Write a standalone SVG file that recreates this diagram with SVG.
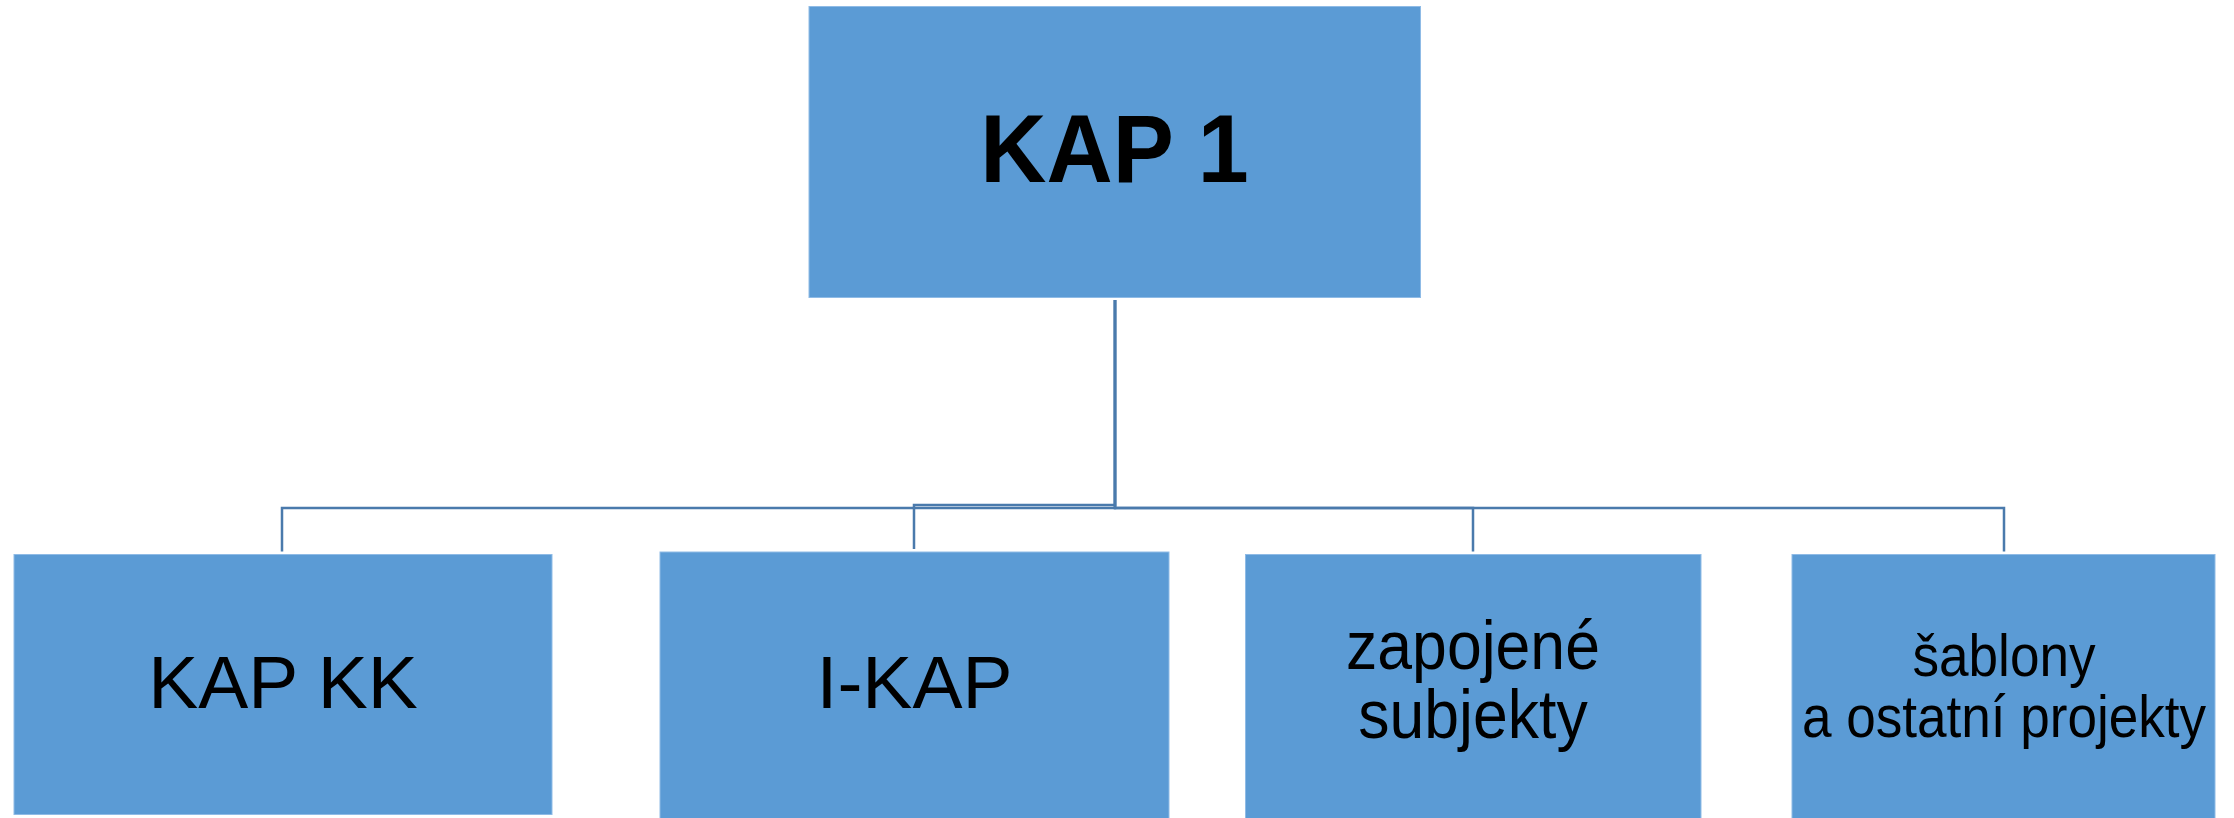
<svg xmlns="http://www.w3.org/2000/svg" width="2234" height="818" viewBox="0 0 2234 818">
  <style>
    .box { fill: #5b9bd5; stroke: #8fbbe6; stroke-width: 1; }
    .conn { fill: none; stroke: #4a7aac; stroke-width: 2.5; }
    .t { font-family: "Liberation Sans", Arial, sans-serif; fill: #000000; text-anchor: middle; }
  </style>
  <rect x="0" y="0" width="2234" height="818" fill="#ffffff"/>
  <g id="connectors">
    <path class="conn" d="M1115 300 V508 H282 V551.5"/>
    <path class="conn" d="M1115 300 V505 H914 V549"/>
    <path class="conn" d="M1115 300 V508 H1473 V551.5"/>
    <path class="conn" d="M1115 300 V508 H2004 V551.5"/>
  </g>
  <g id="kap1">
    <rect class="box" x="809" y="6.5" width="611.5" height="291"/>
    <text class="t" transform="translate(1114.5 182) scale(0.955 1)" font-size="96" font-weight="bold">KAP 1</text>
  </g>
  <g id="kapkk">
    <rect class="box" x="14" y="554.5" width="538" height="260"/>
    <text class="t" x="283" y="707.5" font-size="75">KAP KK</text>
  </g>
  <g id="ikap">
    <rect class="box" x="660" y="552" width="509" height="270"/>
    <text class="t" x="914.5" y="708" font-size="75">I-KAP</text>
  </g>
  <g id="zapojene">
    <rect class="box" x="1245.5" y="554.5" width="455.5" height="270"/>
    <text class="t" transform="translate(1473 669) scale(0.92 1)" font-size="68">zapojené</text>
    <text class="t" transform="translate(1473 738) scale(0.92 1)" font-size="68">subjekty</text>
  </g>
  <g id="sablony">
    <rect class="box" x="1792" y="554.5" width="423" height="270"/>
    <text class="t" transform="translate(2004 675.5) scale(0.9 1)" font-size="59">šablony</text>
    <text class="t" transform="translate(2004 737) scale(0.9 1)" font-size="59">a ostatní projekty</text>
  </g>
</svg>
